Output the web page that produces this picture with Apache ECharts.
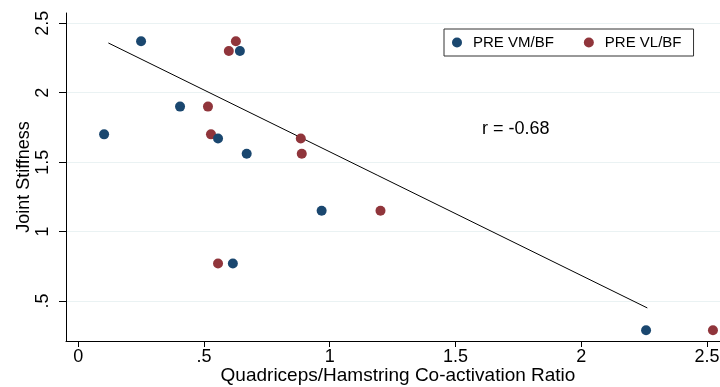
<!DOCTYPE html>
<html>
<head>
<meta charset="utf-8">
<script src="https://cdn.jsdelivr.net/npm/echarts@6/dist/echarts.min.js"></script>
<style>
html,body{margin:0;padding:0;background:#fff;}
#chart{width:720px;height:387px;}
</style>
</head>
<body>
<div id="chart"></div>
<script>
// Data
var vmX = [0.103, 0.25, 0.405, 0.556, 0.643, 0.67, 0.615, 0.968, 2.258];
var vmY = [1.70, 2.37, 1.90, 1.67, 2.30, 1.56, 0.77, 1.15, 0.29];
var vlX = [0.599, 0.627, 0.516, 0.528, 0.885, 0.889, 0.556, 1.202, 2.524];
var vlY = [2.30, 2.37, 1.90, 1.70, 1.67, 1.56, 0.77, 1.15, 0.29];
var fitX = [0.12, 2.263];
var fitY = [2.358, 0.45];
var xTicks = [0, 0.5, 1, 1.5, 2, 2.5];
var yTicks = [0.5, 1, 1.5, 2, 2.5];
var seriesNames = ['PRE VM/BF', 'PRE VL/BF'];
var annotation = 'r = -0.68';

function zip(a, b) { return a.map(function (v, i) { return [v, b[i]]; }); }
function fmt(v) {
  var s = String(v);
  if (s.indexOf('0.') === 0) s = s.slice(1);
  return s;
}

var font = 'Liberation Sans, Arial, Helvetica, sans-serif';
var chart = echarts.init(document.getElementById('chart'), null, {renderer: 'canvas'});
chart.setOption({
  backgroundColor: '#ffffff',
  animation: false,
  textStyle: {fontFamily: font},
  grid: {left: 66, top: 13, right: 0, bottom: 46, containLabel: false, outerBoundsMode: 'none'},
  legend: {
    data: seriesNames,
    left: 444, top: 29,
    orient: 'horizontal',
    icon: 'circle',
    itemWidth: 10, itemHeight: 10,
    itemGap: 30,
    padding: [6, 12, 6, 8],
    borderColor: '#333333', borderWidth: 1,
    backgroundColor: '#ffffff',
    itemStyle: {opacity: 1},
    textStyle: {fontSize: 15, color: '#000', fontFamily: font, padding: [0, 0, 0, 6]}
  },
  xAxis: {
    type: 'value',
    min: -0.0485, max: 2.552,
    name: 'Quadriceps/Hamstring Co-activation Ratio',
    nameLocation: 'middle', nameGap: 25, nameMoveOverlap: false,
    nameTextStyle: {fontSize: 19, color: '#000', fontFamily: font, padding: [0, 0, 0, 10]},
    axisLine: {show: true, onZero: false, lineStyle: {color: '#000', width: 1}},
    axisTick: {show: true, length: 6, customValues: xTicks, lineStyle: {color: '#000'}},
    axisLabel: {customValues: xTicks, formatter: fmt, fontSize: 18, color: '#000', margin: 7, fontFamily: font},
    splitLine: {show: false}
  },
  yAxis: {
    type: 'value',
    min: 0.212, max: 2.574,
    name: 'Joint Stiffness',
    nameLocation: 'middle', nameGap: 33, nameRotate: 90, nameMoveOverlap: false,
    nameTextStyle: {fontSize: 18, color: '#000', fontFamily: font},
    axisLine: {show: true, onZero: false, lineStyle: {color: '#000', width: 1}},
    axisTick: {show: true, length: 7, customValues: yTicks, lineStyle: {color: '#000'}},
    axisLabel: {customValues: yTicks, formatter: fmt, rotate: 90, fontSize: 18, color: '#000', margin: 14, fontFamily: font},
    splitLine: {show: true, lineStyle: {color: '#eaf2f3', width: 1}}
  },
  graphic: [{
    type: 'text', left: 482, top: 120,
    style: {text: annotation, fontSize: 18, fill: '#000', fontFamily: font}
  }],
  series: [
    {
      name: 'fit', type: 'line', data: zip(fitX, fitY),
      showSymbol: false, symbol: 'none',
      lineStyle: {color: '#000', width: 1}, z: 1, silent: true
    },
    {
      name: seriesNames[0], type: 'scatter', data: zip(vmX, vmY),
      symbol: 'circle', symbolSize: 10,
      itemStyle: {color: '#1a476f', opacity: 1}, z: 3, clip: false
    },
    {
      name: seriesNames[1], type: 'scatter', data: zip(vlX, vlY),
      symbol: 'circle', symbolSize: 10,
      itemStyle: {color: '#90353b', opacity: 1}, z: 2, clip: false
    }
  ]
});
</script>
</body>
</html>
